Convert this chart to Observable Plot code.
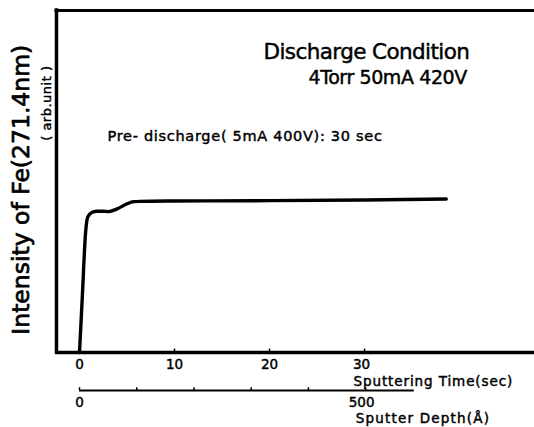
<!DOCTYPE html>
<html><head><meta charset="utf-8">
<script src="https://cdn.jsdelivr.net/npm/d3@7"></script>
<script src="https://cdn.jsdelivr.net/npm/@observablehq/plot@0.6"></script>
<style>
html,body{margin:0;padding:0;background:#fff;overflow:hidden;}
#chart svg{display:block;}
</style></head><body><div id="chart"></div>
<script>
// ---- data ----
const timeSec   = [0, 0.3, 0.63, 0.87, 1.34, 1.86, 2.5, 3.08, 3.97, 5.02, 5.72, 6.35, 10, 20, 30, 38.6];
const intensity = [0, 16.5, 34.7, 39.6, 41.0, 41.3, 41.3, 41.2, 42.0, 43.5, 44.1, 44.2, 44.3, 44.4, 44.6, 44.9];
const timeTicks = [0, 10, 20, 30];
const depthTicks = [0, 100, 200, 300, 400, 500];
const depthLabels = [0, 500];
const depthPerSec = 16.6;      // Å sputtered per second
const depthAxisEnd = 585;      // Å, end of the depth scale line
const yLabel = "Intensity of Fe(271.4nm)";
const yUnit = "( arb.unit )";
const condTitle = "Discharge Condition";
const condLine = "4Torr 50mA 420V";
const preNote = "Pre- discharge( 5mA 400V): 30 sec";
const xTitle = "Sputtering Time(sec)";
const depthTitle = "Sputter Depth(Å)";

const rows = timeSec.map((t, i) => ({t, v: intensity[i]}));
const xDom = [-2.42, 47.89];
const depthY = -11.1;
const font = "DejaVu Sans";

const plot = Plot.plot({
  width: 534, height: 427,
  marginLeft: 56, marginRight: 0, marginTop: 10, marginBottom: 75,
  x: {domain: xDom, axis: null},
  y: {domain: [0, 100], axis: null},
  style: {fontFamily: font, background: "white", color: "black", overflow: "visible"},
  marks: [
    // frame: left, top, bottom
    Plot.ruleX([xDom[0]], {y1: 0, y2: 100, stroke: "black", strokeWidth: 3.5, strokeLinecap: "square"}),
    Plot.ruleY([100], {x1: xDom[0], x2: xDom[1], stroke: "black", strokeWidth: 3.2, strokeLinecap: "square"}),
    Plot.ruleY([0], {x1: xDom[0] - 0.1, x2: xDom[1], stroke: "black", strokeWidth: 3.5}),
    Plot.ruleX(timeTicks.slice(1), {y1: 0, y2: 1, stroke: "black", strokeWidth: 1.5}),
    // time tick labels
    Plot.text(timeTicks, {x: d => d, y: 0, text: d => String(d), dy: 12.5, fontSize: 13.5}),
    Plot.text([xTitle], {x: timeTicks[3], y: 0, text: d => d, dy: 29, dx: -11, textAnchor: "start", fontSize: 13.5}),
    // depth scale
    Plot.ruleY([depthY], {x1: 0, x2: depthAxisEnd / depthPerSec, stroke: "black", strokeWidth: 2}),
    Plot.ruleX(depthTicks, {x: d => d / depthPerSec, y1: depthY, y2: depthY + 0.8, stroke: "black", strokeWidth: 1.5}),
    Plot.text(depthLabels, {x: d => d / depthPerSec, y: depthY, text: d => String(d), dy: 12.5, fontSize: 13.5}),
    Plot.text([depthTitle], {x: depthLabels[1] / depthPerSec, y: depthY, text: d => d, dy: 28.5, dx: -10, textAnchor: "start", fontSize: 13.5}),
    // curve
    Plot.line(rows, {x: "t", y: "v", stroke: "black", strokeWidth: 3.4, curve: "monotone-x", strokeLinejoin: "round", strokeLinecap: "round"}),
    // y labels
    Plot.text([yLabel], {x: -6.1, y: 47.6, text: d => d, rotate: -90, fontSize: 23.5}),
    Plot.text([yUnit], {x: -3.39, y: 72.9, text: d => d, rotate: -90, fontSize: 13}),
    // annotations
    Plot.text([condTitle], {x: 19.37, y: 87.8, text: d => d, textAnchor: "start", fontSize: 21.5}),
    Plot.text([condLine], {x: 24.1, y: 80.3, text: d => d, textAnchor: "start", fontSize: 19}),
    Plot.text([preNote], {x: 2.95, y: 63.3, text: d => d, textAnchor: "start", fontSize: 14.5})
  ]
});

const spacing = new Map([
  [xTitle, 0.9], [depthTitle, 1.2], [yUnit, 0.5],
  [condTitle, -0.6], [condLine, -0.4], [preNote, 0.7]
]);
d3.select(plot).selectAll("text").each(function () {
  const t = this.textContent;
  const el = d3.select(this);
  el.attr("stroke", "black").attr("stroke-width", t === yLabel ? 0.7 : 0.45);
  if (spacing.has(t)) el.attr("letter-spacing", spacing.get(t));
  if (t === "30" || t === "500") el.attr("dx", t === "30" ? -3 : -4);
});
document.getElementById("chart").appendChild(plot);
</script>
</body></html>
